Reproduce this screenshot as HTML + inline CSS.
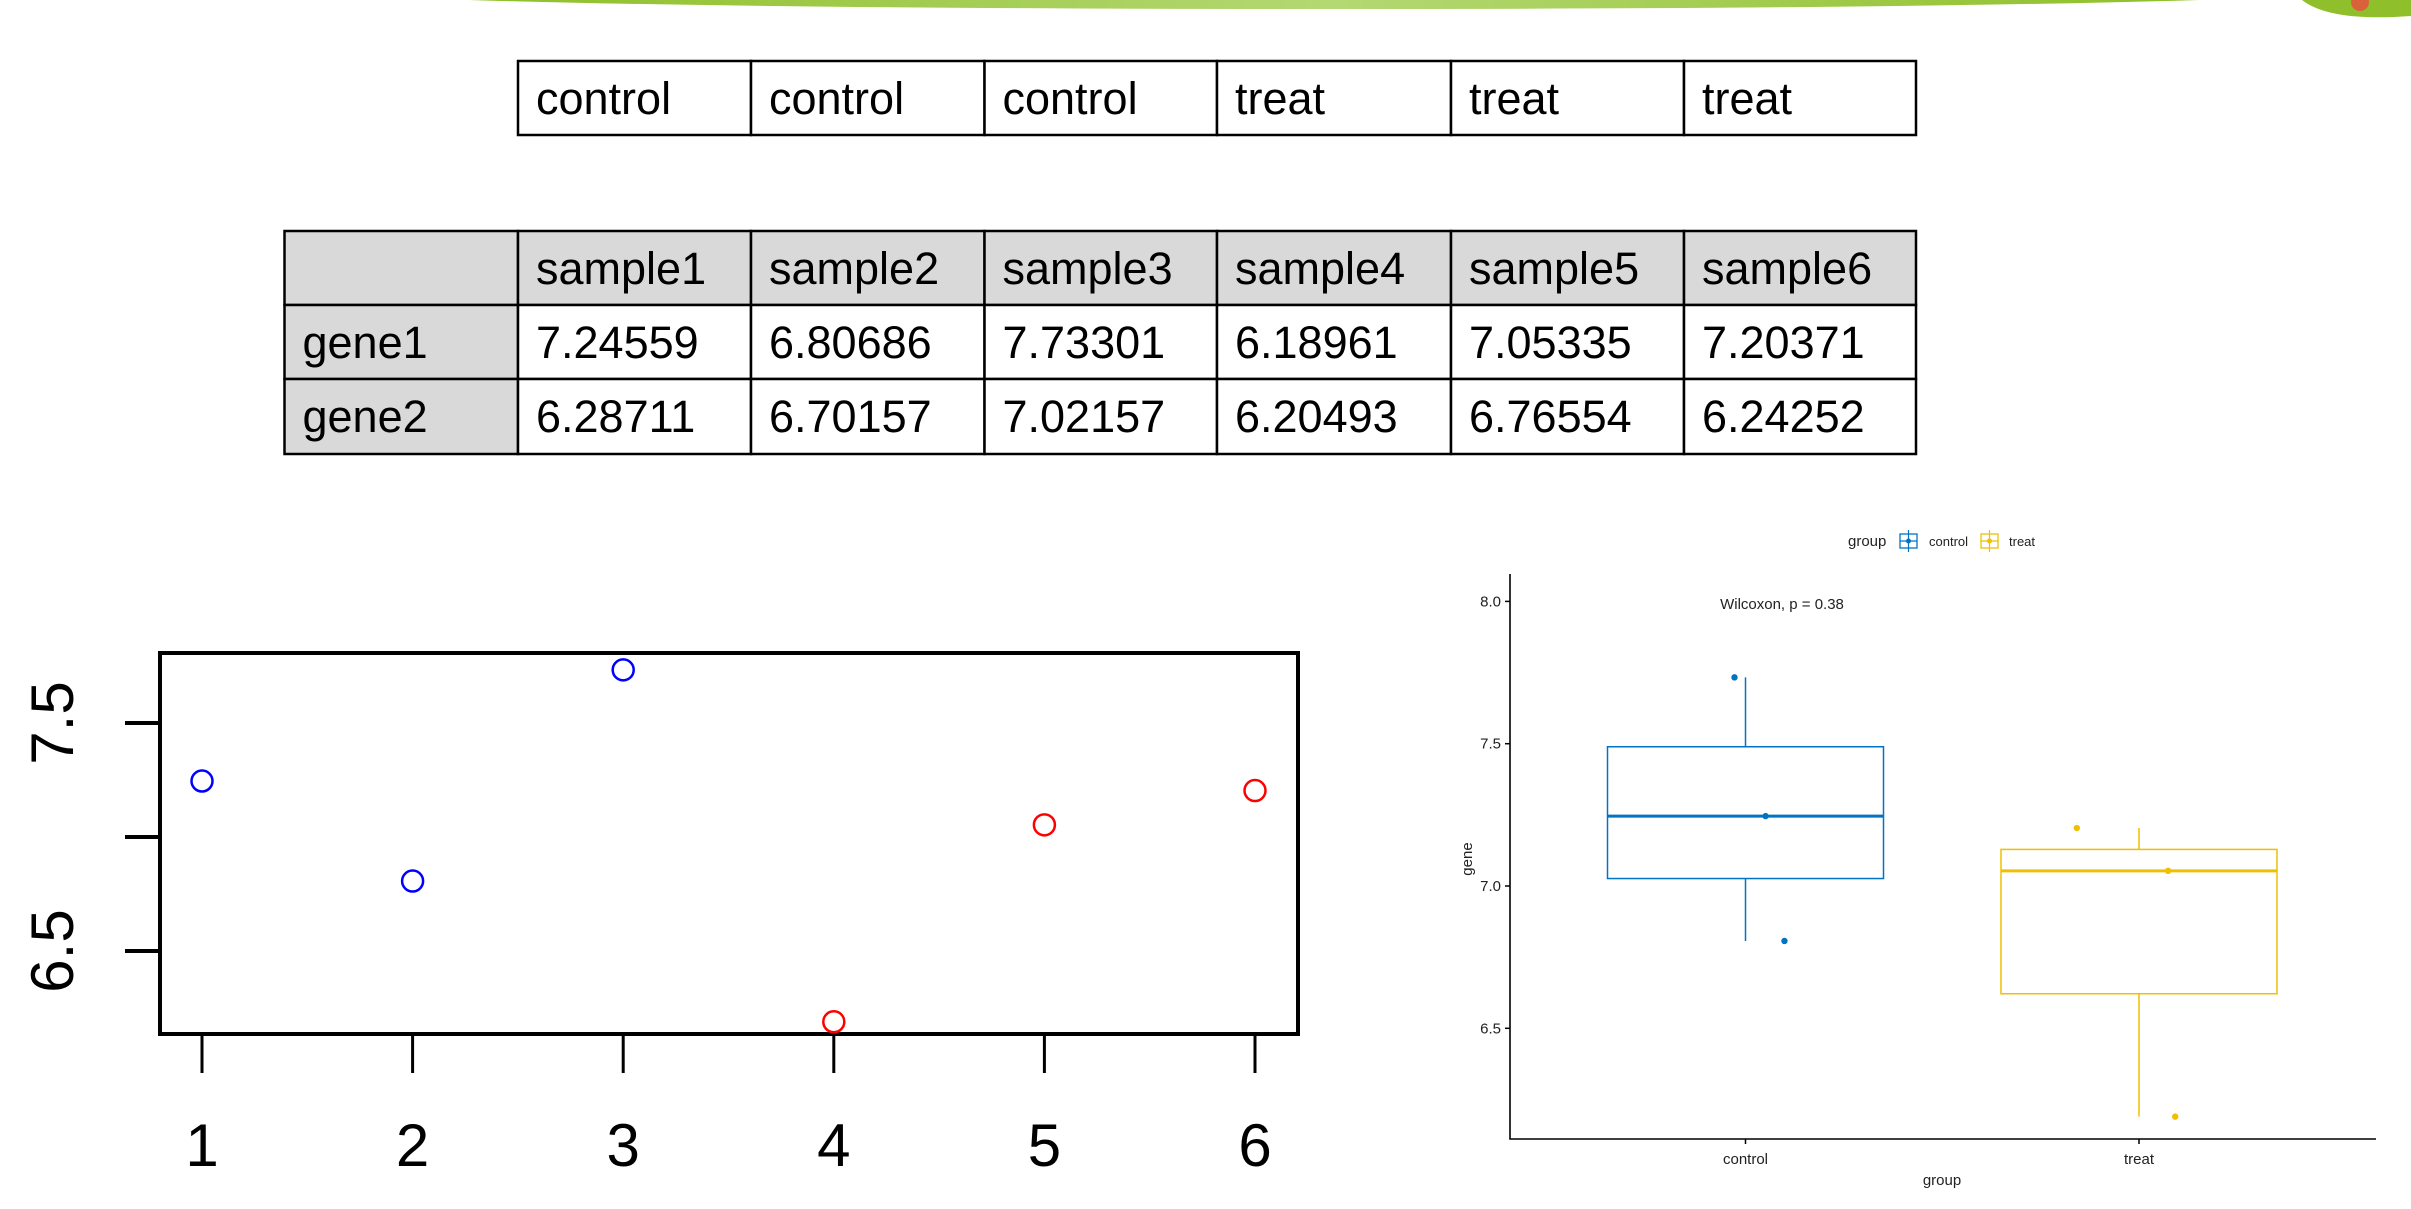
<!DOCTYPE html>
<html><head><meta charset="utf-8"><style>
html,body{margin:0;padding:0;background:#fff;width:2411px;height:1209px;overflow:hidden}
svg{display:block}
</style></head><body>
<svg id="s" width="2411" height="1209" viewBox="0 0 2411 1209" xmlns="http://www.w3.org/2000/svg" font-family="'Liberation Sans', sans-serif">
<defs><linearGradient id="gb" x1="0" x2="1" y1="0" y2="0"><stop offset="0" stop-color="#8fbf2a"/><stop offset="0.5" stop-color="#b4d873"/><stop offset="1" stop-color="#8fbf2a"/></linearGradient></defs>
<path d="M469 0 L2199 0 Q1900 9 1334 9 Q770 9 469 0 Z" fill="url(#gb)"/>
<g><path d="M2302 0 L2411 0 L2411 16 Q2330 22 2302 0 Z" fill="#8fbf2a"/><circle cx="2360" cy="2" r="9" fill="#d9623a"/></g>
<g id="tables"></g>
<g id="scatter"></g>
<g id="boxplot"></g>
</svg>
<script>
const NS='http://www.w3.org/2000/svg';
const groups=['control','control','control','treat','treat','treat'];
const samples=['sample1','sample2','sample3','sample4','sample5','sample6'];
const gene1=[7.24559,6.80686,7.73301,6.18961,7.05335,7.20371];
const gene2=[6.28711,6.70157,7.02157,6.20493,6.76554,6.24252];
const scatterYTicks=[6.5,7.0,7.5];
const scatterYLabels=['6.5','','7.5'];
const scatterXTicks=[1,2,3,4,5,6];
const boxCats=['control','treat'];
const boxYTicks=[6.5,7.0,7.5,8.0];
const boxYLabels=['6.5','7.0','7.5','8.0'];
const jitter=[0.051,0.099,-0.028,0.092,0.074,-0.158];

function el(tag,attrs,parent,text){const e=document.createElementNS(NS,tag);for(const k in attrs)e.setAttribute(k,attrs[k]);if(text!==undefined)e.textContent=text;parent.appendChild(e);return e;}

// ---------- tables ----------
const T=document.getElementById('tables');
const colX=[284.5,518,751,984.5,1217,1451,1684,1916];
function cell(x0,x1,y0,y1,fill,txt,name){
  const r=el('rect',{x:x0,y:y0,width:x1-x0,height:y1-y0,fill:fill,stroke:'#000','stroke-width':2.5},T);
  
  
  if(txt){const t=el('text',{x:x0+18,y:y0+53,'font-size':45,fill:'#000'},T,txt);
  
  }
}
for(let i=0;i<6;i++)cell(colX[i+1],colX[i+2],61,135,'#fff',groups[i],'group-label-'+(i+1));
const rowY=[231,305,379,454];
cell(colX[0],colX[1],rowY[0],rowY[1],'#d9d9d9','','table-corner');
for(let i=0;i<6;i++)cell(colX[i+1],colX[i+2],rowY[0],rowY[1],'#d9d9d9',samples[i],'header-'+samples[i]);
const genes=[['gene1',gene1],['gene2',gene2]];
genes.forEach((g,r)=>{
  cell(colX[0],colX[1],rowY[r+1],rowY[r+2],'#d9d9d9',g[0],'row-header-'+g[0]);
  for(let i=0;i<6;i++)cell(colX[i+1],colX[i+2],rowY[r+1],rowY[r+2],'#fff',g[1][i].toFixed(5),g[0]+'-'+samples[i]);
});

// ---------- scatter ----------
const S=document.getElementById('scatter');
const sx=i=>202+210.6*(i-1);
const sy=v=>837-(v-7)*228;
const frame=el('rect',{x:160,y:653,width:1138,height:381,fill:'none',stroke:'#000','stroke-width':4},S);


scatterXTicks.forEach(v=>{
  const l=el('line',{x1:sx(v),x2:sx(v),y1:1035,y2:1073,stroke:'#000','stroke-width':3},S);
  
  
  const t=el('text',{x:sx(v),y:1166,'font-size':60,'text-anchor':'middle',fill:'#000'},S,String(v));
  
  
});
scatterYTicks.forEach((v,i)=>{
  const l=el('line',{x1:125,x2:160,y1:sy(v),y2:sy(v),stroke:'#000','stroke-width':4},S);
  
  
  if(scatterYLabels[i]){const t=el('text',{x:0,y:0,'font-size':60,'text-anchor':'middle',fill:'#000',transform:`translate(73,${sy(v)}) rotate(-90)`},S,scatterYLabels[i]);
  
  }
});
gene1.forEach((v,i)=>{
  const c=el('circle',{cx:sx(i+1),cy:sy(v),r:10.5,fill:'none',stroke:groups[i]==='control'?'#0000ff':'#ff0000','stroke-width':2.5},S);
  
  
});

// ---------- boxplot ----------
const B=document.getElementById('boxplot');
const bx=i=>1745.5+393.5*i;
const by=v=>886-(v-7)*284.6;
const colors={control:'#0073C2',treat:'#EFC000'};
function q(arr,p){const a=[...arr].sort((m,n)=>m-n);const h=(a.length-1)*p;const lo=Math.floor(h);return a[lo]+(h-lo)*((a[lo+1]??a[lo])-a[lo]);}
const ax=el('path',{d:'M1510 574 L1510 1139 L2376 1139',fill:'none',stroke:'#000','stroke-width':1.6},B);


boxYTicks.forEach((v,i)=>{
  const l=el('line',{x1:1505,x2:1510,y1:by(v),y2:by(v),stroke:'#000','stroke-width':1.5},B);
  
  
  const t=el('text',{x:1501,y:by(v)+5,'font-size':15,'text-anchor':'end',fill:'#222'},B,boxYLabels[i]);
  
  
});
boxCats.forEach((c,ci)=>{
  const vals=gene1.filter((_,i)=>groups[i]===c);
  const x=bx(ci),w=276,col=colors[c];
  const q1=q(vals,0.25),md=q(vals,0.5),q3=q(vals,0.75),mn=Math.min(...vals),mx=Math.max(...vals);
  const wh=el('path',{d:`M${x} ${by(mx)} L${x} ${by(q3)} M${x} ${by(q1)} L${x} ${by(mn)}`,stroke:col,'stroke-width':1.5,fill:'none'},B);
  
  
  const r=el('rect',{x:x-w/2,y:by(q3),width:w,height:by(q1)-by(q3),fill:'#fff',stroke:col,'stroke-width':1.5},B);
  
  
  const m=el('line',{x1:x-w/2,x2:x+w/2,y1:by(md),y2:by(md),stroke:col,'stroke-width':3},B);
  
  
  const tk=el('line',{x1:x,x2:x,y1:1139,y2:1144,stroke:'#000','stroke-width':1.5},B);
  
  
  const t=el('text',{x:x,y:1164,'font-size':15,'text-anchor':'middle',fill:'#222'},B,c);
  
  
});
gene1.forEach((v,i)=>{
  const ci=boxCats.indexOf(groups[i]);
  const p=el('circle',{cx:bx(ci)+jitter[i]*393.5,cy:by(v),r:3.2,fill:colors[groups[i]]},B);
  
  
});
const wt=el('text',{x:1782,y:609,'font-size':15,'text-anchor':'middle',fill:'#222'},B,'Wilcoxon, p = 0.38');


const yl=el('text',{x:0,y:0,'font-size':15,'text-anchor':'middle',fill:'#222',transform:'translate(1472,859) rotate(-90)'},B,'gene');


const xl=el('text',{x:1942,y:1185,'font-size':15,'text-anchor':'middle',fill:'#222'},B,'group');


// legend
const lg=el('g',{},B);


const lt=el('text',{x:1848,y:546,'font-size':15,fill:'#222'},lg,'group');


[['control',1900,1929],['treat',1981,2009]].forEach(([c,kx,tx])=>{
  const k=el('g',{},lg);
  
  
  el('rect',{x:kx,y:534,width:17,height:14,fill:'#fff',stroke:colors[c],'stroke-width':1.3},k);
  el('line',{x1:kx+8.5,x2:kx+8.5,y1:530,y2:552,stroke:colors[c],'stroke-width':1.2},k);
  el('line',{x1:kx,x2:kx+17,y1:541,y2:541,stroke:colors[c],'stroke-width':1.2},k);
  el('circle',{cx:kx+8.5,cy:541,r:2.5,fill:colors[c]},k);
  el('text',{x:tx,y:546,'font-size':13,fill:'#222'},k,c);
});
</script>
</body></html>
